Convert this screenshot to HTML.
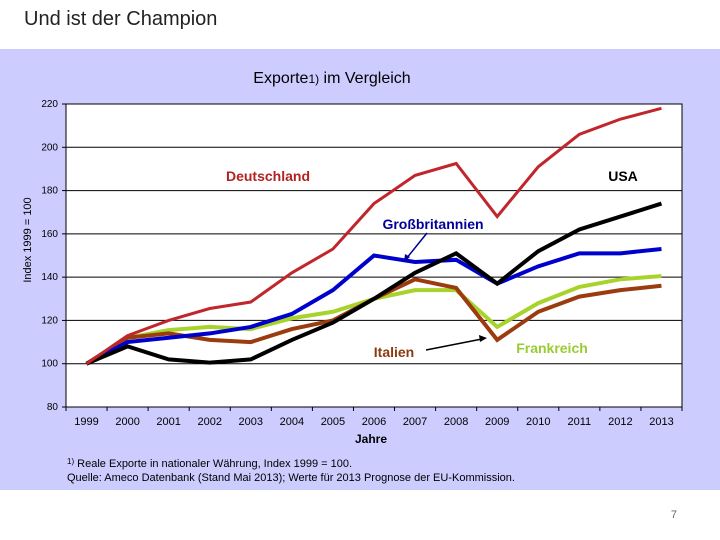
<!DOCTYPE html>
<html><head><meta charset="utf-8"><style>
body{margin:0;width:720px;height:540px;background:#fff;overflow:hidden;font-family:"Liberation Sans",sans-serif;}
svg{display:block}
</style></head><body>
<svg id="chart" width="720" height="540">
<rect x="0" y="49" width="720" height="441" fill="#ccccff"/>
<text x="24" y="25" font-size="20" fill="#222" font-family="'Liberation Sans',sans-serif">Und ist der Champion</text>
<text x="332" y="83" text-anchor="middle" font-size="16" fill="#000">Exporte<tspan font-size="12">1)</tspan> im Vergleich</text>
<rect x="66" y="104" width="616" height="303" fill="#fff" stroke="#000" stroke-width="1"/>
<g id="grid"></g>
<g id="series"></g>
<text transform="translate(31,240) rotate(-90)" text-anchor="middle" font-size="11">Index 1999 = 100</text>
<text x="371" y="443" text-anchor="middle" font-size="12" font-weight="bold">Jahre</text>
<text x="67" y="467" font-size="11"><tspan font-size="8" dy="-3">1)</tspan><tspan dy="3"> Reale Exporte in nationaler Währung, Index 1999 = 100.</tspan></text>
<text x="67" y="481" font-size="11">Quelle: Ameco Datenbank (Stand Mai 2013); Werte für 2013 Prognose der EU-Kommission.</text>
<text x="677" y="518" text-anchor="end" font-size="11" fill="#666">7</text>
<text x="268" y="181" text-anchor="middle" font-size="14" font-weight="bold" fill="#b22222">Deutschland</text>
<text x="623" y="181" text-anchor="middle" font-size="14" font-weight="bold" fill="#000">USA</text>
<text x="433" y="229" text-anchor="middle" font-size="14" font-weight="bold" fill="#000099">Großbritannien</text>
<line x1="427" y1="233" x2="406" y2="259" stroke="#000099" stroke-width="1.5"/>
<polygon points="404,262 405,254 410,257" fill="#000099"/>
<text x="394" y="357" text-anchor="middle" font-size="14" font-weight="bold" fill="#8b3a10">Italien</text>
<line x1="426" y1="350" x2="482" y2="339" stroke="#000" stroke-width="1.5"/>
<polygon points="487,338 479,335 480,342" fill="#000"/>
<text x="552" y="353" text-anchor="middle" font-size="14" font-weight="bold" fill="#99cc33">Frankreich</text>
</svg>
<script>
const years=["1999","2000","2001","2002","2003","2004","2005","2006","2007","2008","2009","2010","2011","2012","2013"];
const yTicks=[80,100,120,140,160,180,200,220];
const deutschland=[100,113,120,125.5,128.5,142,153,174,187,192.5,168,191,206,213,218];
const grossbritannien=[100,110,112,114,117,123,134,150,147,148,137,145,151,151,153];
const usa=[100,108,102,100.5,102,111,119,130,142,151,137,152,162,168,174];
const frankreich=[100,112,115.5,117,116,121,124,130,134,134,117,128,135.5,139,140.5];
const italien=[100,112,114,111,110,116,120,130,139,135,111,124,131,134,136];
const NS='http://www.w3.org/2000/svg';
const L=66,R=682,T=104,B=407,ymin=80,ymax=220;
const step=(R-L)/years.length;
function xs(i){return L+step*(i+0.5);}
function ys(v){return B-(v-ymin)/(ymax-ymin)*(B-T);}
const grid=document.getElementById('grid');
function mk(tag,attrs,parent){const e=document.createElementNS(NS,tag);for(const k in attrs)e.setAttribute(k,attrs[k]);parent.appendChild(e);return e;}
yTicks.forEach(v=>{
  const y=ys(v);
  const g=mk('line',{x1:L,x2:R,y1:y,y2:y,stroke:'#000','stroke-width':1},grid);
  
  
  const tk=mk('line',{x1:L-4,x2:L,y1:y,y2:y,stroke:'#000'},grid);
  
  
  const t=mk('text',{x:L-8,y:y+3,'text-anchor':'end','font-size':10},grid);
  t.textContent=v;
  
  
});
for(let i=0;i<=years.length;i++){
  const x=L+step*i;
  const tk=mk('line',{x1:x,x2:x,y1:B,y2:B+4,stroke:'#000'},grid);
  
  
}
years.forEach((yr,i)=>{
  const t=mk('text',{x:xs(i),y:B+18,'text-anchor':'middle','font-size':11},grid);
  t.textContent=yr;
  
  
});
const ser=document.getElementById('series');
function line(data,color,w,name){
  const p=mk('polyline',{points:data.map((v,i)=>xs(i)+','+ys(v)).join(' '),fill:'none',stroke:color,'stroke-width':w,'stroke-linejoin':'miter'},ser);
  
  
}
line(frankreich,'#a8d32a',4,'line-frankreich');
line(italien,'#9b3c0e',4,'line-italien');
line(grossbritannien,'#0000cc',4,'line-grossbritannien');
line(usa,'#000000',4,'line-usa');
line(deutschland,'#c0262c',3,'line-deutschland');
</script>
</body></html>
